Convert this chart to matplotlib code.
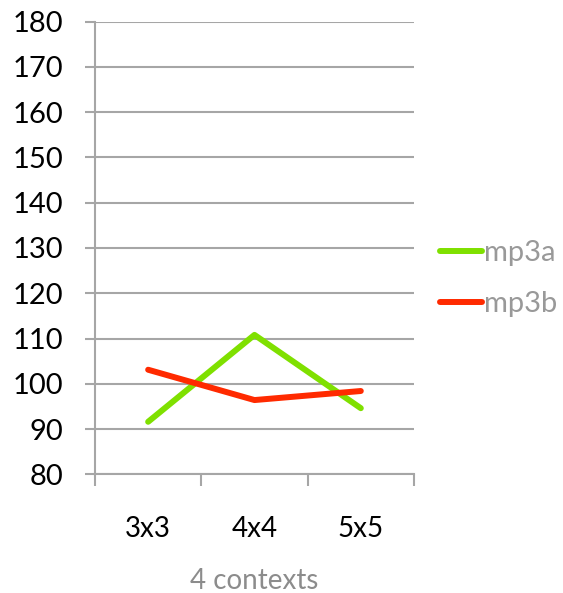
import matplotlib
matplotlib.use("Agg")
import matplotlib.pyplot as plt

plt.rcParams['font.family'] = ['Lato', 'DejaVu Sans']

categories = ["3x3", "4x4", "5x5"]
mp3a = [91.6, 110.8, 94.6]
mp3b = [103.1, 96.4, 98.4]
y_ticks = list(range(80, 181, 10))

grid_col = '#a6a6a6'

fig = plt.figure(figsize=(5.63, 5.93), dpi=100)
ax = fig.add_axes([0.1687, 0.2002, 0.5666, 0.7632])

x = list(range(len(categories)))
ax.plot(x, mp3a, color='#7fe000', lw=4.3, solid_capstyle='round', label='mp3a')
ax.plot(x, mp3b, color='#ff2a00', lw=4.3, solid_capstyle='round', label='mp3b')

ax.set_xlim(-0.5, len(categories) - 0.5)
ax.set_ylim(80, 180)
ax.set_yticks(y_ticks)
ax.yaxis.grid(True, color=grid_col, lw=1.5)
ax.set_axisbelow(True)

ax.set_xticks(x)
ax.set_xticklabels(categories)
ax.set_xticks([i - 0.5 for i in range(len(categories) + 1)], minor=True)
ax.tick_params(axis='x', which='major', length=0, pad=30, labelsize=20)
ax.tick_params(axis='x', which='minor', length=8.5, width=1.5, color=grid_col)
ax.tick_params(axis='y', length=7.5, width=1.5, color=grid_col, pad=15, labelsize=21)

for s in ['top', 'right']:
    ax.spines[s].set_visible(False)
for s in ['left', 'bottom']:
    ax.spines[s].set_color(grid_col)
    ax.spines[s].set_linewidth(1.5)

ax.set_xlabel("4 contexts", color='#8c8c8c', fontsize=20, labelpad=19)

leg = ax.legend(loc='center left', bbox_to_anchor=(1.081, 0.433), frameon=False,
                fontsize=21, handlelength=1.45, handletextpad=0.06,
                labelspacing=0.85, borderaxespad=0, borderpad=0)
for t in leg.get_texts():
    t.set_color('#999999')

plt.savefig("out.png", dpi=100)
